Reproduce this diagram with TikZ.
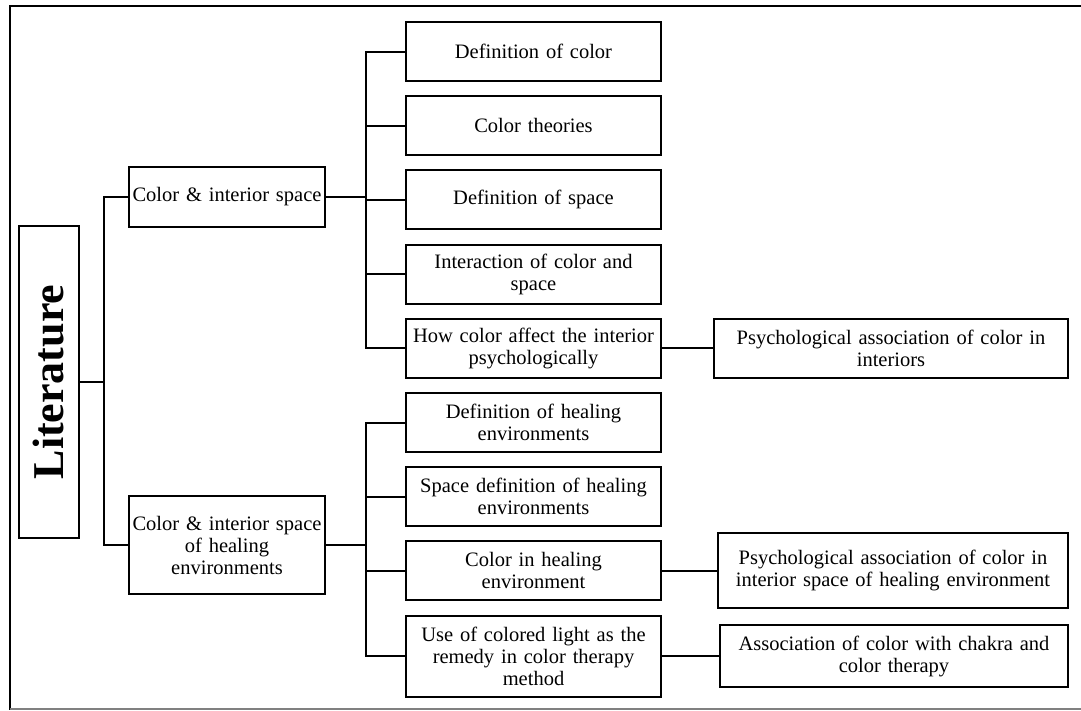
\documentclass[tikz,border=0pt]{standalone}
\usepackage{fontspec}
\setmainfont{Liberation Serif}
\begin{document}
\begin{tikzpicture}[x=1pt,y=-1pt,
  box/.style={draw=black,line width=2pt,inner sep=2pt,align=center,
    font=\fontsize{20.5}{22}\selectfont,minimum height=59pt},
  colbox/.style={box,minimum width=255pt,text width=251pt},
  rbox/.style={box,text width=350pt,minimum width=354pt},
  conn/.style={line width=2pt},
  trunk/.style={line width=2.6pt}]
\useasboundingbox (0,0) rectangle (1081,710);
\draw[line width=1.6pt] (1081,6) -- (10,6) -- (10,710);
\draw[line width=1.4pt,gray] (10,709) -- (1081,709);

% Root
\node[draw,line width=2pt,minimum width=60pt,minimum height=312pt,inner sep=0pt] (lit) at (49,382) {};
\node[rotate=90,font=\fontsize{44}{44}\selectfont\bfseries] (littxt) at (lit.center) {Literature};

% Level 1
\node[box,minimum width=196pt,text width=196pt,inner sep=0pt,minimum height=60pt] (a) at (227,197) {Color \& interior space};
\node[box,minimum width=196pt,text width=196pt,inner sep=0pt,minimum height=98pt] (b) at (227,545) {Color \& interior space\\of healing\\environments};

% Level 2 (upper)
\node[colbox] (a1) at (533.5,51.5) {Definition of color};
\node[colbox] (a2) at (533.5,125.5) {Color theories};
\node[colbox] (a3) at (533.5,199.5) {Definition of space};
\node[colbox] (a4) at (533.5,274) {Interaction of color and\\space};
\node[colbox] (a5) at (533.5,348) {How color affect the interior\\psychologically};
\node[rbox] (a6) at (891,348) {Psychological association of color in\\interiors};

% Level 2 (lower)
\node[colbox] (b1) at (533.5,422.5) {Definition of healing\\environments};
\node[colbox] (b2) at (533.5,496.5) {Space definition of healing\\environments};
\node[colbox] (b3) at (533.5,570.5) {Color in healing\\environment};
\node[colbox,minimum height=81pt] (b4) at (533.5,656) {Use of colored light as the\\remedy in color therapy\\method};
\node[rbox,text width=346pt,minimum width=350pt,minimum height=75pt] (b5) at (893,570.5) {Psychological association of color in\\interior space of healing environment};
\node[rbox,text width=344pt,minimum width=348pt,minimum height=62pt] (b6) at (894,656) {Association of color with chakra and\\color therapy};

% Connectors root
\coordinate (r) at (104,382);
\draw[conn] (lit.east) -- (lit.east -| r);
\draw[conn] (a.west) -| (104,382) |- (b.west);

% Trunk upper
\coordinate (t1) at (366,197);
\draw[trunk] (a.east) -- (t1);
\draw[conn] (a1.west) -| (t1) |- (a5.west);
\draw[conn] (a2.west) -- (a2.west -| t1);
\draw[conn] (a3.west) -- (a3.west -| t1);
\draw[conn] (a4.west) -- (a4.west -| t1);
\draw[trunk] (366,60) -- (366,340);
\draw[conn] (a5.east) -- (a6.west);

% Trunk lower
\coordinate (t2) at (366,545);
\draw[trunk] (b.east) -- (t2);
\draw[conn] (b1.west) -| (t2) |- (b4.west);
\draw[conn] (b2.west) -- (b2.west -| t2);
\draw[conn] (b3.west) -- (b3.west -| t2);
\draw[trunk] (366,430) -- (366,648);
\draw[conn] (b3.east) -- (b5.west);
\draw[conn] (b4.east) -- (b6.west);
\end{tikzpicture}
\end{document}
